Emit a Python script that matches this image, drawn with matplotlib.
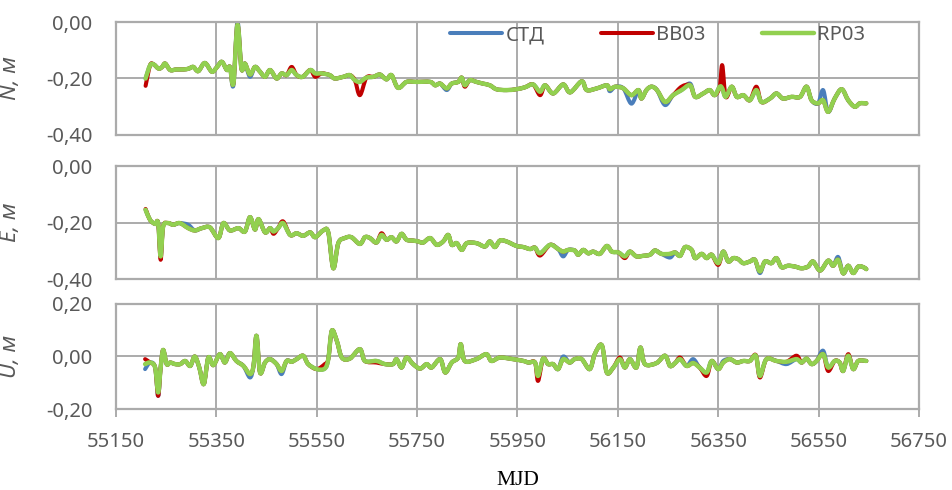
import numpy as np
import matplotlib
matplotlib.use("Agg")
import matplotlib.pyplot as plt
from matplotlib.ticker import FuncFormatter
from matplotlib.path import Path
from matplotlib.patches import PathPatch
from matplotlib.lines import Line2D

plt.rcParams['font.family'] = ['Noto Sans', 'DejaVu Sans']

series_names = ["СТД", "ВВ03", "RP03"]
series_colors = ["#4A7EBB", "#C00000", "#92D050"]

# ---- N component ----
n_mjd = [55209, 55218, 55225, 55235, 55242, 55248, 55258, 55270, 55285, 55295,
         55304, 55314, 55327, 55341, 55351, 55361, 55371, 55377, 55384, 55392,
         55400, 55407, 55417, 55427, 55437, 55447, 55457, 55470, 55480, 55490,
         55500, 55510, 55522, 55537, 55547, 55560, 55576, 55586, 55603, 55616,
         55626, 55636, 55649, 55663, 55676, 55689, 55699, 55712, 55729, 55749,
         55776, 55786, 55796, 55809, 55819, 55832, 55839, 55845, 55855, 55868,
         55881, 55895, 55908, 55928, 55948, 55965, 55981, 55995, 56005, 56021,
         56041, 56055, 56078, 56088, 56108, 56128, 56134, 56145, 56161, 56177,
         56191, 56197, 56207, 56217, 56228, 56244, 56260, 56277, 56294, 56304,
         56320, 56333, 56343, 56353, 56358, 56365, 56377, 56387, 56400, 56413,
         56426, 56436, 56453, 56466, 56479, 56496, 56513, 56526, 56536, 56549,
         56559, 56569, 56582, 56596, 56609, 56622, 56632, 56645]
n_rp03 = [-0.200, -0.153, -0.150, -0.165, -0.159, -0.147, -0.170, -0.168, -0.168, -0.165,
          -0.159, -0.174, -0.145, -0.176, -0.160, -0.141, -0.170, -0.159, -0.218, -0.010,
          -0.165, -0.147, -0.186, -0.159, -0.176, -0.194, -0.170, -0.200, -0.182, -0.188,
          -0.170, -0.188, -0.194, -0.170, -0.182, -0.182, -0.188, -0.200, -0.194, -0.188,
          -0.206, -0.212, -0.197, -0.194, -0.186, -0.203, -0.188, -0.233, -0.212, -0.212,
          -0.212, -0.224, -0.218, -0.235, -0.218, -0.212, -0.197, -0.224, -0.206, -0.212,
          -0.218, -0.224, -0.238, -0.241, -0.238, -0.231, -0.221, -0.247, -0.224, -0.253,
          -0.221, -0.249, -0.210, -0.241, -0.235, -0.224, -0.238, -0.229, -0.235, -0.259,
          -0.241, -0.271, -0.241, -0.229, -0.241, -0.283, -0.259, -0.241, -0.224, -0.265,
          -0.253, -0.241, -0.259, -0.229, -0.235, -0.265, -0.229, -0.265, -0.259, -0.277,
          -0.241, -0.283, -0.271, -0.253, -0.271, -0.265, -0.265, -0.229, -0.277, -0.288,
          -0.277, -0.318, -0.271, -0.238, -0.277, -0.300, -0.288, -0.288]
n_std_diff = {55384: -0.224, 55392: 0.000, 55417: -0.194, 55809: -0.241, 56134: -0.245,
              56177: -0.289, 56244: -0.294, 56294: -0.218, 56559: -0.241}
n_bb03_diff = {55209: -0.226, 55500: -0.159, 55547: -0.194, 55636: -0.259, 55845: -0.229,
               55995: -0.259, 56277: -0.229, 56358: -0.153, 56426: -0.229}

# ---- E component ----
e_mjd = [55209, 55218, 55228, 55234, 55239, 55244, 55254, 55264, 55277, 55294,
         55307, 55321, 55337, 55354, 55364, 55377, 55394, 55407, 55417, 55427,
         55434, 55447, 55457, 55464, 55473, 55483, 55497, 55510, 55523, 55537,
         55547, 55563, 55573, 55583, 55593, 55606, 55619, 55636, 55646, 55656,
         55669, 55679, 55689, 55699, 55709, 55719, 55729, 55742, 55752, 55762,
         55776, 55789, 55802, 55812, 55819, 55829, 55839, 55849, 55868, 55885,
         55895, 55905, 55915, 55928, 55948, 55962, 55975, 55985, 55995, 56015,
         56031, 56041, 56051, 56064, 56071, 56081, 56091, 56101, 56114, 56128,
         56138, 56151, 56164, 56174, 56187, 56200, 56214, 56224, 56237, 56254,
         56264, 56274, 56284, 56297, 56304, 56317, 56327, 56337, 56350, 56360,
         56370, 56380, 56390, 56400, 56413, 56423, 56433, 56443, 56456, 56466,
         56476, 56489, 56503, 56516, 56529, 56539, 56553, 56569, 56579, 56589,
         56599, 56609, 56619, 56629, 56639, 56645]
e_rp03 = [-0.155, -0.191, -0.205, -0.202, -0.320, -0.214, -0.202, -0.208, -0.202, -0.220,
          -0.228, -0.220, -0.217, -0.255, -0.202, -0.228, -0.220, -0.232, -0.181, -0.225,
          -0.188, -0.235, -0.220, -0.232, -0.220, -0.202, -0.244, -0.238, -0.247, -0.235,
          -0.252, -0.228, -0.235, -0.362, -0.273, -0.255, -0.252, -0.276, -0.252, -0.255,
          -0.271, -0.244, -0.261, -0.252, -0.267, -0.240, -0.261, -0.264, -0.267, -0.271,
          -0.255, -0.279, -0.267, -0.244, -0.279, -0.273, -0.297, -0.273, -0.273, -0.285,
          -0.267, -0.287, -0.264, -0.267, -0.283, -0.287, -0.294, -0.289, -0.309, -0.279,
          -0.294, -0.303, -0.297, -0.299, -0.314, -0.297, -0.309, -0.303, -0.311, -0.283,
          -0.303, -0.306, -0.320, -0.303, -0.320, -0.318, -0.314, -0.299, -0.311, -0.311,
          -0.306, -0.318, -0.287, -0.297, -0.326, -0.311, -0.326, -0.314, -0.344, -0.303,
          -0.338, -0.326, -0.330, -0.344, -0.338, -0.332, -0.373, -0.338, -0.344, -0.326,
          -0.358, -0.353, -0.356, -0.362, -0.356, -0.338, -0.370, -0.335, -0.353, -0.332,
          -0.380, -0.353, -0.379, -0.356, -0.358, -0.365]
e_std_diff = {55294: -0.208, 56041: -0.320, 56254: -0.324, 56433: -0.379, 56589: -0.322}
e_bb03_diff = {55209: -0.152, 55239: -0.332, 55464: -0.240, 55483: -0.196, 55679: -0.238,
               55995: -0.317, 56164: -0.326, 56350: -0.350}

# ---- U component ----
u_mjd = [55208, 55218, 55228, 55234, 55239, 55244, 55251, 55258, 55268, 55278,
         55288, 55298, 55307, 55316, 55325, 55334, 55344, 55357, 55367, 55377,
         55390, 55404, 55417, 55424, 55430, 55437, 55447, 55457, 55470, 55480,
         55490, 55500, 55510, 55523, 55533, 55550, 55566, 55573, 55580, 55590,
         55600, 55616, 55636, 55646, 55669, 55686, 55702, 55709, 55719, 55729,
         55742, 55756, 55769, 55779, 55796, 55806, 55819, 55832, 55837, 55845,
         55868, 55888, 55898, 55915, 55941, 55962, 55972, 55985, 55991, 56001,
         56011, 56021, 56031, 56041, 56054, 56064, 56078, 56094, 56104, 56118,
         56128, 56141, 56154, 56164, 56174, 56187, 56195, 56204, 56227, 56244,
         56254, 56264, 56274, 56287, 56300, 56313, 56327, 56337, 56350, 56360,
         56373, 56387, 56400, 56413, 56425, 56433, 56446, 56466, 56486, 56506,
         56516, 56526, 56536, 56546, 56559, 56569, 56582, 56592, 56599, 56609,
         56619, 56629, 56645]
u_rp03 = [-0.029, -0.023, -0.042, -0.137, -0.042, 0.025, -0.029, -0.023, -0.029, -0.029,
          -0.017, -0.036, 0.000, -0.042, -0.105, -0.004, -0.033, 0.009, -0.023, 0.013,
          -0.017, -0.036, -0.067, -0.036, 0.079, -0.061, -0.023, -0.010, -0.029, -0.055,
          -0.017, -0.020, -0.010, 0.003, -0.029, -0.048, -0.046, -0.010, 0.098, 0.060,
          -0.004, -0.008, 0.028, -0.017, -0.017, -0.029, -0.029, -0.010, -0.042, -0.004,
          -0.029, -0.046, -0.029, -0.042, -0.010, -0.061, -0.023, -0.004, 0.047, -0.017,
          -0.010, 0.009, -0.017, -0.004, -0.010, -0.017, -0.023, -0.023, -0.074, -0.008,
          -0.029, -0.029, -0.048, -0.010, -0.023, -0.010, -0.010, -0.048, 0.009, 0.043,
          -0.061, -0.042, -0.010, -0.042, -0.010, -0.042, 0.034, -0.029, -0.025, 0.003,
          -0.036, -0.025, -0.010, -0.036, -0.025, -0.042, -0.061, -0.017, -0.048, -0.023,
          -0.010, -0.023, -0.017, -0.017, 0.003, -0.074, -0.010, -0.017, -0.020, -0.010,
          -0.023, -0.008, -0.029, -0.017, 0.009, -0.042, -0.017, -0.023, -0.055, 0.003,
          -0.048, -0.017, -0.017]
u_std_diff = {55208: -0.048, 55234: -0.150, 55417: -0.080, 55480: -0.067, 56041: 0.000,
              56300: -0.010, 56360: -0.017, 56486: -0.029, 56559: 0.022}
u_bb03_diff = {55208: -0.010, 55234: -0.150, 55566: -0.029, 55669: -0.023, 55991: -0.093,
               56154: -0.004, 56274: -0.004, 56327: -0.074, 56425: 0.005, 56433: -0.080,
               56506: 0.003, 56569: -0.055, 56609: 0.009}


def with_diffs(mjd, base, diffs):
    out = list(base)
    for k, v in diffs.items():
        out[mjd.index(k)] = v
    return out


def smooth_path(x, y):
    # Excel-style smoothed line: Bezier segments through the data points
    p = np.column_stack([x, y]).astype(float)
    verts = [p[0]]
    codes = [Path.MOVETO]
    n = len(p)
    for i in range(n - 1):
        p0 = p[i - 1] if i > 0 else p[i]
        p3 = p[i + 2] if i + 2 < n else p[i + 1]
        c1 = p[i] + (p[i + 1] - p0) / 6
        c2 = p[i + 1] - (p3 - p[i]) / 6
        verts += [c1, c2, p[i + 1]]
        codes += [Path.CURVE4] * 3
    return Path(verts, codes)


panels = [
    ("N", n_mjd, n_rp03, n_std_diff, n_bb03_diff, (-0.40, 0.00), [0.0, -0.2, -0.4],
     [0.1217, 0.7245, 0.8426, 0.2306]),
    ("E", e_mjd, e_rp03, e_std_diff, e_bb03_diff, (-0.40, 0.00), [0.0, -0.2, -0.4],
     [0.1217, 0.4306, 0.8426, 0.2306]),
    ("U", u_mjd, u_rp03, u_std_diff, u_bb03_diff, (-0.20, 0.20), [0.2, 0.0, -0.2],
     [0.1217, 0.1653, 0.8426, 0.2143]),
]

grid_c = "#ABABAB"
text_c = "#595959"
fs = 14.5
lws = [2.9, 2.9, 3.2]

fig = plt.figure(figsize=(9.53, 4.90), dpi=100)
axes = []
for i, (name, mjd, rp, std_d, bb_d, ylim, yticks, pos) in enumerate(panels):
    ax = fig.add_axes(pos)
    std = with_diffs(mjd, rp, std_d)
    bb = with_diffs(mjd, rp, bb_d)
    for vals, col, lw in zip([std, bb, rp], series_colors, lws):
        ax.add_patch(PathPatch(smooth_path(mjd, vals), fill=False, edgecolor=col, lw=lw,
                               joinstyle='round', capstyle='round'))
    ax.set_xlim(55150, 56750)
    ax.set_ylim(*ylim)
    ax.set_xticks(np.arange(55150, 56751, 200))
    ax.set_yticks(yticks)
    ax.yaxis.set_major_formatter(FuncFormatter(lambda v, p: f"{v:.2f}".replace(".", ",")))
    ax.grid(True, color=grid_c, lw=1.4)
    ax.set_axisbelow(True)
    for s in ax.spines.values():
        s.set_color(grid_c)
        s.set_linewidth(1.6)
    ax.tick_params(axis='y', length=0, pad=17, labelsize=fs, labelcolor=text_c)
    if i < 2:
        ax.tick_params(axis='x', length=0, labelbottom=False)
    else:
        ax.tick_params(axis='x', length=5.8, width=1.4, color=grid_c, pad=11,
                       labelsize=fs, labelcolor=text_c)
    ax.set_ylabel(f"{name}, м", fontsize=16, color=text_c, style='italic')
    ax.yaxis.set_label_coords(-0.118, 0.5)
    axes.append(ax)

handles = [Line2D([], [], color=c, lw=lw, solid_capstyle='round')
           for c, lw in zip(series_colors, lws)]
axes[0].legend(handles, series_names, loc='center', bbox_to_anchor=(0.690, 0.928),
               bbox_transform=fig.transFigure, ncol=3, frameon=False, fontsize=fs,
               handlelength=2.6, handletextpad=0.15, columnspacing=2.8,
               labelcolor=text_c, borderaxespad=0, borderpad=0)

fig.text(0.543, 1 - 480 / 490, "MJD", family='Liberation Serif', fontsize=15.5,
         ha='center', va='center', color='black')

fig.savefig("out.png", dpi=100)
